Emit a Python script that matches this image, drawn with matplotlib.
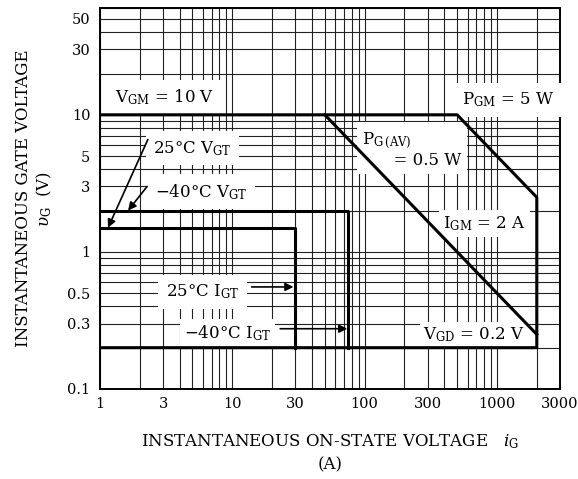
import matplotlib.pyplot as plt
from matplotlib import ticker

plt.rcParams['font.family'] = ['DejaVu Serif']
plt.rcParams['mathtext.fontset'] = 'dejavuserif'

# gate current (x) / gate voltage (y) of the thick limit lines
peak_limit_i = [1, 500, 2000, 2000, 1]
peak_limit_v = [10, 10, 2.5, 0.2, 0.2]
avg_power_i = [50, 2000]
avg_power_v = [10, 0.25]
vgt25_i = [1, 30, 30]
vgt25_v = [1.5, 1.5, 0.2]
vgt40_i = [1, 75, 75]
vgt40_v = [2, 2, 0.2]

x_ticks = [1, 3, 10, 30, 100, 300, 1000, 3000]
y_ticks = [0.1, 0.3, 0.5, 1, 3, 5, 10, 30, 50]
x_ticklabels = ['1', '3', '10', '30', '100', '300', '1000', '3000']
y_ticklabels = ['0.1', '0.3', '0.5', '1', '3', '5', '10', '30', '50']

fig = plt.figure(figsize=(5.78, 4.79), dpi=100)
ax = fig.add_axes([0.173, 0.188, 0.796, 0.795])
ax.set_xscale('log')
ax.set_yscale('log')
ax.set_xlim(1, 3000)
ax.set_ylim(0.1, 60)

ax.set_xticks(x_ticks, labels=x_ticklabels)
ax.set_yticks(y_ticks, labels=y_ticklabels)
ax.xaxis.set_minor_locator(ticker.LogLocator(subs=range(2, 10)))
ax.yaxis.set_minor_locator(ticker.LogLocator(subs=range(2, 10)))
ax.xaxis.set_minor_formatter(ticker.NullFormatter())
ax.yaxis.set_minor_formatter(ticker.NullFormatter())
ax.tick_params(which='both', length=0, labelsize=10.5)
ax.tick_params(axis='x', pad=6)
ax.tick_params(axis='y', pad=7)
ax.grid(which='both', color='#222222', lw=0.8)
for s in ax.spines.values():
    s.set_linewidth(1.4)

# limit lines
lw = 2.2
ax.plot(peak_limit_i, peak_limit_v, color='black', lw=lw, zorder=5)
ax.plot(avg_power_i, avg_power_v, color='black', lw=lw, zorder=5)
ax.plot(vgt25_i, vgt25_v, color='black', lw=lw, zorder=5)
ax.plot(vgt40_i, vgt40_v, color='black', lw=lw, zorder=5)

box = dict(boxstyle='square,pad=0.45', fc='white', ec='none')
fs = 12
ax.text(1.3, 13.5, 'V$_{\\mathrm{GM}}$ = 10 V', fontsize=fs, va='center', bbox=box, zorder=4)
ax.text(545, 12.8, 'P$_{\\mathrm{GM}}$ = 5 W', fontsize=fs, va='center', bbox=box, zorder=4)
ax.text(96, 5.6, 'P$_{\\mathrm{G\\,(AV)}}$\n      = 0.5 W', fontsize=fs, va='center',
        linespacing=1.1, bbox=dict(boxstyle='square,pad=0.3', fc='white', ec='none'), zorder=4)
ax.text(392, 1.6, 'I$_{\\mathrm{GM}}$ = 2 A', fontsize=fs, va='center',
        bbox=dict(boxstyle='square,pad=0.25', fc='white', ec='none'), zorder=4)
ax.text(276, 0.25, 'V$_{\\mathrm{GD}}$ = 0.2 V', fontsize=fs, va='center',
        bbox=dict(boxstyle='square,pad=0.2', fc='white', ec='none'), zorder=4)
ax.text(2.52, 5.7, '25°C V$_{\\mathrm{GT}}$', fontsize=fs, va='center', bbox=box, zorder=4)
ax.text(2.6, 2.75, '\u221240°C V$_{\\mathrm{GT}}$', fontsize=fs, va='center', bbox=box, zorder=4)
ax.text(3.15, 0.51, '25°C I$_{\\mathrm{GT}}$', fontsize=fs, va='center', bbox=box, zorder=4)
ax.text(4.3, 0.255, '\u221240°C I$_{\\mathrm{GT}}$', fontsize=fs, va='center',
        bbox=dict(boxstyle='square,pad=0.25', fc='white', ec='none'), zorder=4)

arrow = dict(arrowstyle='-|>', color='black', lw=1.2, mutation_scale=12, shrinkA=0, shrinkB=0)
ax.annotate('', xy=(1.15, 1.5), xytext=(2.3, 6.6), arrowprops=arrow, zorder=6)
ax.annotate('', xy=(1.63, 2.0), xytext=(2.27, 3.0), arrowprops=arrow, zorder=6)
ax.annotate('', xy=(29, 0.555), xytext=(14, 0.555), arrowprops=arrow, zorder=6)
ax.annotate('', xy=(74, 0.275), xytext=(23, 0.275), arrowprops=arrow, zorder=6)

ax.set_xlabel('INSTANTANEOUS ON-STATE VOLTAGE   $i_{\\mathrm{G}}$\n(A)', fontsize=12,
              linespacing=1.4, labelpad=15)
ax.set_ylabel('INSTANTANEOUS GATE VOLTAGE\n$\\upsilon_{\\mathrm{G}}$  (V)', fontsize=12,
              linespacing=1.2, labelpad=9)

fig.savefig('out.png', dpi=100)
